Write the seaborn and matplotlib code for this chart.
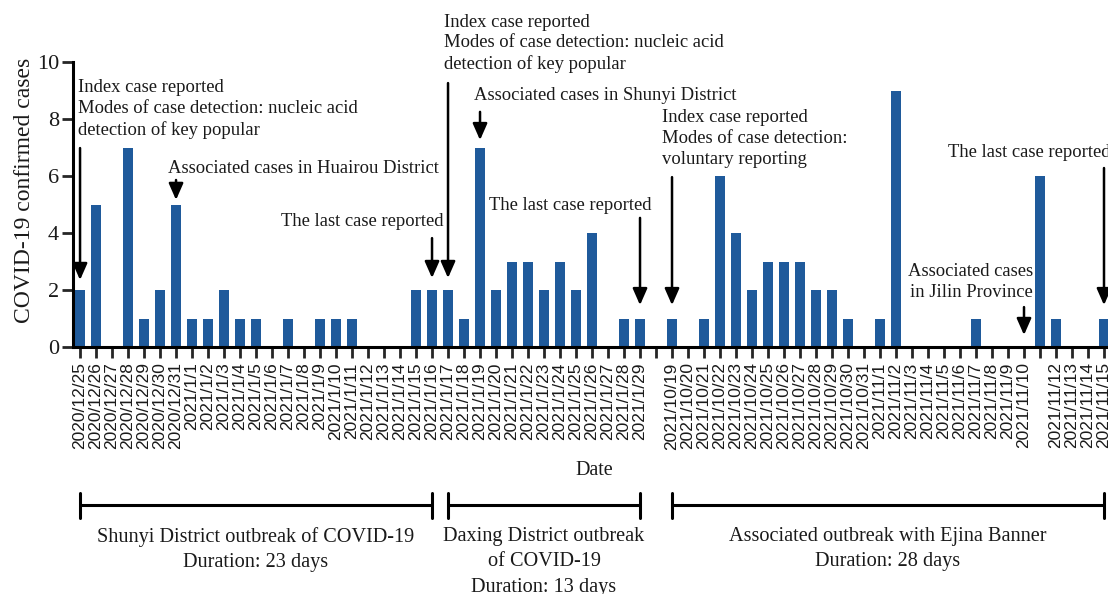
import numpy as np
import pandas as pd
import seaborn as sns
import matplotlib.pyplot as plt

# dates on the x axis ("" = slot without a label)
dates = ["2020/12/25", "2020/12/26", "2020/12/27", "2020/12/28", "2020/12/29", "2020/12/30", "2020/12/31",
         "2021/1/1", "2021/1/2", "2021/1/3", "2021/1/4", "2021/1/5", "2021/1/6", "2021/1/7", "2021/1/8",
         "2021/1/9", "2021/1/10", "2021/1/11", "2021/1/12", "2021/1/13", "2021/1/14", "2021/1/15", "2021/1/16",
         "2021/1/17", "2021/1/18", "2021/1/19", "2021/1/20", "2021/1/21", "2021/1/22", "2021/1/23", "2021/1/24",
         "2021/1/25", "2021/1/26", "2021/1/27", "2021/1/28", "2021/1/29",
         "",
         "2021/10/19", "2021/10/20", "2021/10/21", "2021/10/22", "2021/10/23", "2021/10/24", "2021/10/25",
         "2021/10/26", "2021/10/27", "2021/10/28", "2021/10/29", "2021/10/30", "2021/10/31",
         "2021/11/1", "2021/11/2", "2021/11/3", "2021/11/4", "2021/11/5", "2021/11/6", "2021/11/7",
         "2021/11/8", "2021/11/9", "2021/11/10", "", "2021/11/12", "2021/11/13", "2021/11/14", "2021/11/15"]

cases = [2, 5, 0, 7, 1, 2, 5, 1, 1, 2, 1, 1, 0, 1, 0, 1, 1, 1, 0, 0, 0, 2, 2,
         2, 1, 7, 2, 3, 3, 2, 3, 2, 4, 0, 1, 1,
         0,
         1, 0, 1, 6, 4, 2, 3, 3, 3, 2, 2, 1, 0,
         1, 9, 0, 0, 0, 0, 1, 0, 0, 0, 6, 1, 0, 0, 1]

# outbreak periods: (first slot, last slot, caption)
periods = [(0, 22, "Shunyi District outbreak of COVID-19\nDuration: 23 days"),
           (23, 35, "Daxing District outbreak\nof COVID-19\nDuration: 13 days"),
           (37, 64, "Associated outbreak with Ejina Banner\nDuration: 28 days")]

# arrows: slot, arrow tail, arrow tip (in cases units)
arrow_slot = [0, 6, 22, 23, 25, 35, 37, 59, 64]
arrow_tail = [6.98, 5.86, 3.82, 9.26, 8.25, 4.53, 5.96, 1.40, 6.28]
arrow_tip = [2.35, 5.16, 2.42, 2.42, 7.26, 1.47, 1.47, 0.42, 1.47]

# annotation texts: text, x, y, ha, va
notes = [("Index case reported\nModes of case detection: nucleic acid\ndetection of key popular", -0.12, 9.4, "left", "top"),
         ("Associated cases in Huairou District", 5.5, 6.28, "left", "center"),
         ("The last case reported", 22.7, 4.39, "right", "center"),
         ("Index case reported\nModes of case detection: nucleic acid\ndetection of key popular", 22.75, 11.7, "left", "top"),
         ("Associated cases in Shunyi District", 24.6, 8.84, "left", "center"),
         ("The last case reported", 25.55, 4.98, "left", "center"),
         ("Index case reported\nModes of case detection:\nvoluntary reporting", 36.4, 8.35, "left", "top"),
         ("Associated cases\nin Jilin Province", 59.55, 2.94, "right", "top"),
         ("The last case reported", 54.25, 6.84, "left", "center")]

df = pd.DataFrame({"slot": np.arange(len(cases)), "cases": cases})

sns.set_style("ticks")
plt.rcParams["font.family"] = ["Liberation Serif", "DejaVu Serif"]
ink = "#1a1a1a"

fig = plt.figure(figsize=(11.08, 5.94), dpi=100)
ax = fig.add_axes([73 / 1108, 247 / 594, 1035 / 1108, 285 / 594])

sns.barplot(data=df, x="slot", y="cases", color="#1f5a9b", saturation=1,
            width=0.65, linewidth=0, ax=ax)

ax.set_xlim(-0.44, 64.25)
ax.set_ylim(0, 10)
ax.set_yticks([0, 2, 4, 6, 8, 10])
ax.set_xticks(np.arange(len(dates)))
ax.set_xticklabels(dates, rotation=90, fontsize=12.5, family="Liberation Sans", color=ink)
ax.tick_params(axis="x", length=8, width=2, pad=3)
ax.tick_params(axis="y", length=8, width=2, labelsize=16, pad=2, labelcolor=ink)
sns.despine(ax=ax)
for s in ["left", "bottom"]:
    ax.spines[s].set_linewidth(2.2)
    ax.spines[s].set_color("black")

ax.set_ylabel("COVID-19 confirmed cases", fontsize=17, color=ink)
ax.yaxis.set_label_coords(-0.037, 0.55)
ax.set_xlabel("Date", fontsize=14.5, color=ink)
ax.xaxis.set_label_coords(0.504, -0.40)

for (txt, x, y, ha, va) in notes:
    ax.text(x, y, txt, ha=ha, va=va, fontsize=13.4, color=ink, linespacing=1.3,
            multialignment=ha, clip_on=False)

for i in range(len(arrow_slot)):
    ax.annotate("", xy=(arrow_slot[i], arrow_tip[i]), xytext=(arrow_slot[i], arrow_tail[i]),
                arrowprops=dict(arrowstyle="-|>,head_length=0.5,head_width=0.22",
                                mutation_scale=20, lw=1.8, color="black",
                                shrinkA=0, shrinkB=0), annotation_clip=False)

# brackets below the axis
tr = ax.get_xaxis_transform()
for (a, b, caption) in periods:
    ax.plot([a, b], [-0.554, -0.554], color="black", lw=2.2, transform=tr, clip_on=False)
    ax.plot([a, a], [-0.512, -0.6], color="black", lw=2.2, transform=tr, clip_on=False)
    ax.plot([b, b], [-0.512, -0.6], color="black", lw=2.2, transform=tr, clip_on=False)
    ax.text((a + b) / 2, -0.632, caption, transform=tr, ha="center", va="top",
            fontsize=14.6, color=ink, linespacing=1.45)

fig.savefig("out.png", dpi=100)
